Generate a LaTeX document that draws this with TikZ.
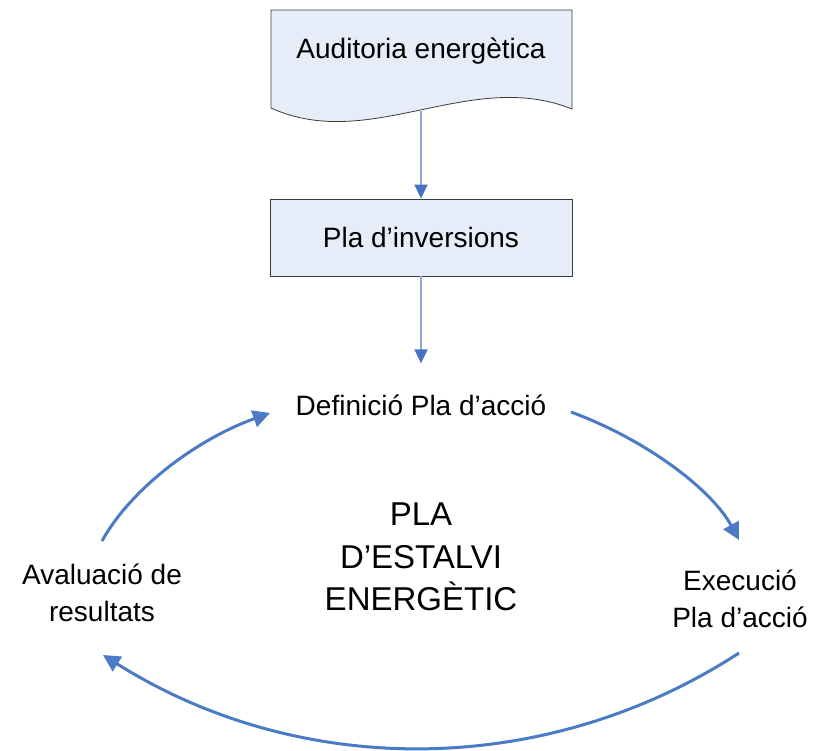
\documentclass[tikz,border=0pt]{standalone}
\usepackage{fontspec}
\setmainfont{Liberation Sans}
\usetikzlibrary{arrows.meta,calc}
\definecolor{boxfill}{HTML}{E6EDF8}
\definecolor{boxline}{HTML}{3A3A3A}
\definecolor{linkline}{HTML}{8EAADB}
\definecolor{tipblue}{HTML}{4472C4}
\definecolor{cycleblue}{HTML}{4A7BC4}
\tikzset{
  stagebox/.style={draw=boxline, line width=0.8pt, fill=boxfill,
    minimum width=302pt, minimum height=77pt, inner sep=0pt,
    font=\fontsize{28}{34}\selectfont},
  lbl/.style={inner sep=0pt, align=center, font=\fontsize{28}{37}\selectfont},
  title/.style={inner sep=0pt, align=center, font=\fontsize{33}{42.5}\selectfont},
  link/.style={draw=linkline, line width=1.5pt,
    -{Triangle[length=14pt, width=13pt, color=tipblue]}},
  cyc/.style={draw=cycleblue, line width=3pt,
    -{Triangle[length=17pt, width=17pt, color=cycleblue]}}
}
\begin{document}
\begin{tikzpicture}[x=1pt, y=-1pt]
  \useasboundingbox (0,0) rectangle (823,751);

  % Document-shaped box with a wavy lower edge
  \draw[draw=boxline, line width=0.8pt, fill=boxfill]
    (271,10) -- (572,10) -- (572,109)
    .. controls (470,68) and (370,153) .. (271,108) -- cycle;
  \node[lbl, font=\fontsize{28}{34}\selectfont] (audit) at (421,51) {Auditoria energètica};
  \coordinate (auditbottom) at (421,111);

  % Investment plan box
  \node[stagebox] (inv) at (421,237.5) {Pla d’inversions};

  % Labels of the cycle
  \node[lbl] (def) at (421,405) {Definició Pla d’acció};
  \node[lbl] (exec) at (740,599) {Execució\\Pla d’acció};
  \node[lbl] (eval) at (102,593) {Avaluació de\\resultats};
  \node[title] (core) at (421,557) {PLA\\D’ESTALVI\\ENERGÈTIC};

  % Straight links
  \draw[link] (auditbottom) -- (inv.north);
  \draw[link, shorten >=31pt] (inv.south) -- (def.north);

  % Cycle arrows
  \draw[cyc] ($(eval)+(0,-52)$) .. controls (130,490) and (195,440) .. ($(def)+(-151,8)$);
  \draw[cyc] ($(def)+(150,7)$) .. controls (647,440) and (712,490) .. ($(exec)+(-1,-59)$);
  \draw[cyc] ($(exec)+(-1,54)$) .. controls (545,779) and (300,779) .. ($(eval)+(1,62)$);
\end{tikzpicture}
\end{document}
